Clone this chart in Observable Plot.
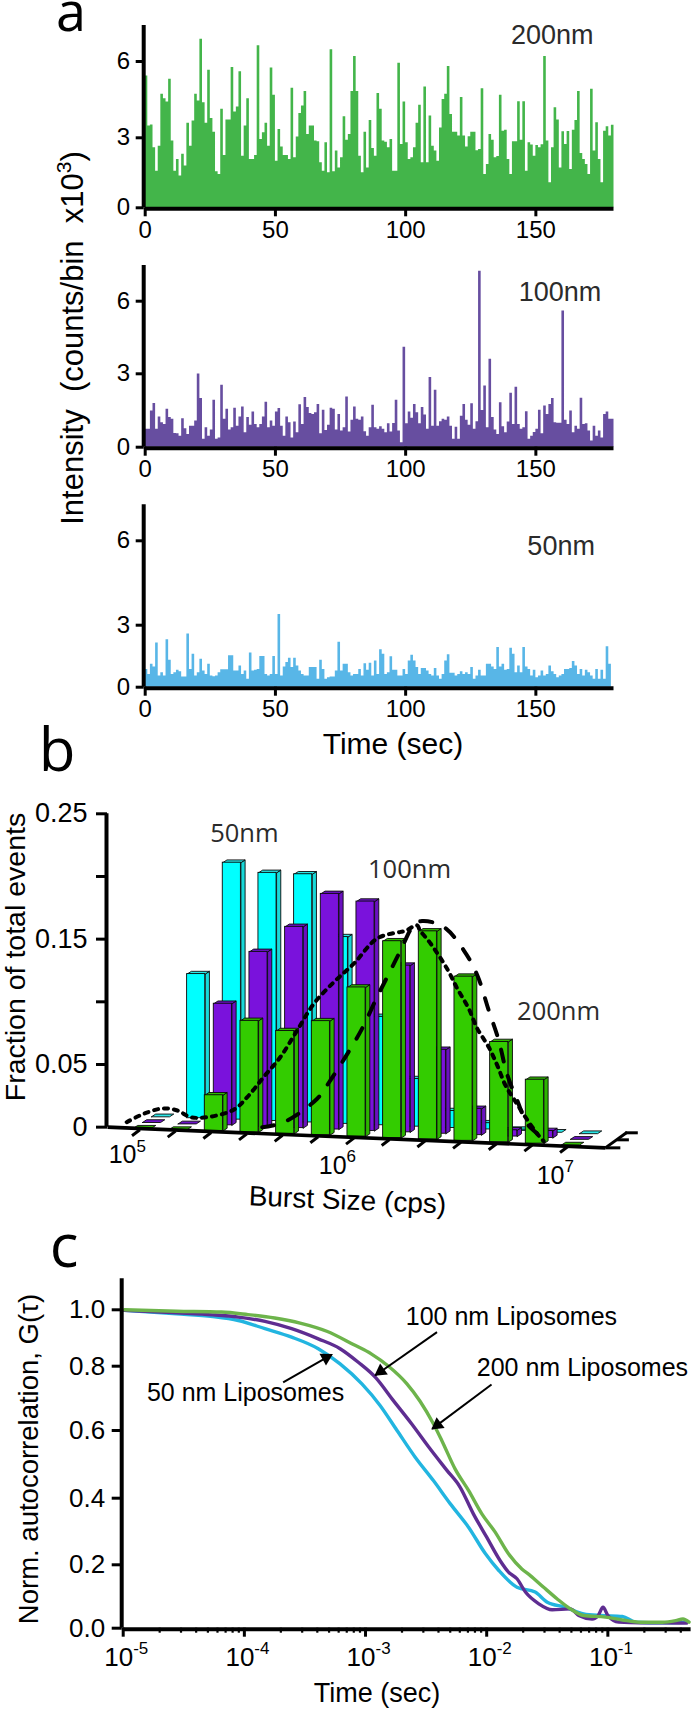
<!DOCTYPE html>
<html>
<head>
<meta charset="utf-8">
<script src="https://cdn.jsdelivr.net/npm/d3@7"></script>
<script src="https://cdn.jsdelivr.net/npm/@observablehq/plot@0.6"></script>
<style>
html,body{margin:0;padding:0;background:#fff}
#page{position:relative;width:692px;height:1710px;overflow:hidden;background:#fff}
#page svg{position:absolute;left:0;overflow:visible;background:transparent}
.t{position:absolute;white-space:nowrap;color:#000;line-height:1;font-family:"Liberation Sans",Arial,sans-serif;transform:translate(-50%,-50%)}
.t sup{font-size:.68em;line-height:0}
</style>
</head>
<body>
<div id="page"></div>
<script>
// ---------- Panel a: intensity traces, one value per second ----------
const intensity200 = [5.43,3.46,3.5,2.57,1.57,2.64,4.71,4.54,4.41,5.3,2.86,1.57,2.07,1.36,2.29,1.79,3.57,2.64,3.66,4.71,4.45,6.88,4.38,3.57,5.66,3.76,3.22,1.54,1.43,4.12,2.24,3.7,3.7,5.76,4.01,4.21,5.6,2.21,3.46,4.54,2.07,2.07,2.24,6.62,2.93,3.2,3.57,2.64,5.74,4.67,2.0,3.33,2.61,2.24,2.24,2.07,4.95,2.14,3.03,3.96,4.25,4.82,3.13,3.46,3.46,2.86,2.83,1.93,1.57,2.79,1.5,6.46,1.54,2.43,1.71,2.14,3.83,2.89,3.13,4.82,6.2,4.82,2.21,1.5,3.22,1.71,3.68,2.54,2.21,
4.74,4.12,2.86,2.81,2.57,2.93,1.57,1.57,5.93,2.71,4.41,2.79,2.07,2.14,2.57,3.57,4.28,1.93,5.0,1.93,3.86,2.64,2.43,2.0,3.39,4.51,4.71,5.8,3.92,3.22,3.22,3.07,4.58,3.07,2.61,3.04,3.22,3.22,2.45,2.5,4.93,1.43,1.86,3.13,2.89,2.14,2.2,4.67,3.26,3.3,2.07,1.43,2.83,2.83,4.42,2.9,4.42,1.57,2.79,2.69,2.21,2.67,2.57,2.7,6.2,2.86,1.07,2.57,4.18,3.7,1.71,3.24,2.71,3.25,1.64,3.3,3.68,4.82,2.33,2.07,1.86,1.43,4.91,2.43,3.59,2.07,1.07,3.26,3.43,3.07,3.49];
const intensity100 = [.73,.73,1.48,1.79,.73,1.23,1.0,.93,1.55,1.21,1.14,.56,.55,.45,1.16,.75,.52,.86,.86,1.07,2.99,1.99,.32,.79,.45,.7,1.92,.32,.38,2.53,1.14,1.55,.7,.79,1.59,.86,1.23,1.64,.59,1.21,.9,1.44,.93,.8,.93,1.23,1.84,.79,1.07,.86,1.44,1.58,.86,.45,1.23,1.0,.38,1.03,.59,1.73,.93,2.03,1.62,1.38,1.34,1.41,1.75,.55,1.51,.68,.9,1.59,1.55,.7,1.34,.66,.8,2.05,.62,1.1,1.64,1.14,1.1,1.23,.63,.45,.8,1.71,.79,
.73,.84,.73,.59,.96,.62,.97,1.92,.66,.18,4.1,.96,1.44,1.18,1.75,1.41,.96,1.62,1.32,.73,2.85,.86,2.33,.86,1.04,1.14,1.1,1.23,.86,.32,.82,.32,1.27,1.75,1.1,.9,1.78,.73,1.04,7.25,1.5,2.5,.8,3.6,1.21,.7,.52,1.82,.84,.59,1.03,2.21,.93,2.45,.93,.73,.79,1.45,.32,.45,.6,.73,1.51,.55,1.68,1.34,1.75,1.99,1.0,.98,.98,5.6,1.1,.93,1.48,.59,.86,.73,2.0,.93,.96,.66,.25,.86,.45,.66,.38,1.34,1.44,1.14,1.14];
const intensity50 = [.86,.62,1.11,.98,2.14,.54,.7,.54,2.3,1.31,.62,.7,.82,.75,.49,.49,2.58,.86,1.6,.54,.7,1.35,.78,.62,1.11,.54,.51,.54,.7,.85,.85,.85,1.52,1.52,.78,.78,1.03,.62,.78,.38,1.65,.78,.82,.86,1.48,1.48,.62,.54,.62,1.48,.62,3.38,.54,.98,1.19,1.4,.95,1.4,1.03,.78,.62,.54,.54,.95,.95,.95,.38,1.31,.86,.38,.46,.49,.49,.78,2.17,.78,1.11,1.11,.7,.54,.62,.62,.86,.54,1.14,.82,1.16,.54,1.27,
.62,1.81,1.6,.62,.7,1.47,.82,.82,.54,.54,.86,.62,1.27,1.55,1.27,.95,.62,.91,.91,.78,.62,.54,.91,.54,.38,.62,1.27,1.57,.67,.67,.54,.62,.75,.62,.7,.62,.95,.38,.54,.82,.54,.54,1.11,1.11,.98,.86,1.92,.98,1.11,.82,.86,1.88,1.6,.7,1.03,.7,1.92,.98,.86,.54,.82,.46,.54,.78,.54,.62,1.03,.75,.62,.46,.54,.62,.86,.86,.91,1.24,1.03,.62,.86,.54,.82,.7,.54,.38,.86,.38,.82,.38,1.96,1.11];
const timeTicks = [0,50,100,150];
const intensityTicks = [0,3,6];

// ---------- Panel b: burst size histograms ----------
const burstBins  = [1,2,3,4,5,6,7,8,9,10,11,12,13];
const fraction50  = [0,.115,.205,.198,.198,.149,.0865,.038,.0136,.005,.001,0,0];
const fraction100 = [0,0,.097,.1395,.1606,.188,.183,.133,.067,.021,.005,.0056,0];
const fraction200 = [0,0,.0285,.089,.082,.091,.119,.157,.166,.131,.08,.051,0];
const fractionTicks = [0,.05,.1,.15,.2,.25];
const fractionLabels = ["0","0.05","","0.15","","0.25"];
const dottedBin = [.81,1.29,1.81,2.23,2.6,3.07,3.81,4.19,4.65,5.12,5.59,6.06,6.62,7.18,7.83,8.49,8.63,8.95,9.03,9.33,9.79,10.08,10.4,10.64,10.96,11.2,11.43,11.66,11.99,12.32,12.5];
const dottedVal = [.004,.0107,.0149,.0133,.008,.008,.0139,.024,.04,.056,.0772,.0986,.1158,.1305,.1505,.1558,.1566,.1611,.1571,.1465,.1265,.1105,.0946,.0786,.0639,.0493,.0333,.0227,.008,-.0053,-.0112];
const dashedBin = [4.61,5.22,6.15,6.52,6.94,7.41,7.83,8.21,8.49,8.86,9.09,9.7,10.26,10.64,10.96,11.24,11.47,11.76,12.04,12.32,12.5];
const dashedVal = [0,.004,.0227,.0373,.0559,.0786,.1038,.1252,.1411,.1611,.1645,.1597,.1411,.1212,.0932,.0693,.0427,.0213,.0027,-.0053,-.0112];

// ---------- Panel c: autocorrelation curves ----------
const logTau200 = [-4.99,-4.56,-4.19,-3.97,-3.75,-3.54,-3.32,-3.10,-2.95,-2.81,-2.66,-2.55,-2.44,-2.37,-2.26,-2.15,-2.04,-1.93,-1.82,-1.71,-1.64,-1.53,-1.42,-1.31,-1.20,-1.02,-.88,-.73,-.55,-.44,-.38,-.33];
const corr200   = [1,.995,.992,.983,.971,.953,.924,.877,.843,.80,.746,.691,.621,.57,.486,.423,.353,.298,.233,.187,.166,.129,.093,.061,.04,.035,.026,.019,.019,.024,.029,.019];
const logTau100 = [-4.99,-4.56,-4.26,-4.05,-3.83,-3.61,-3.39,-3.21,-3.06,-2.92,-2.77,-2.62,-2.48,-2.33,-2.22,-2.11,-2,-1.89,-1.82,-1.75,-1.68,-1.57,-1.46,-1.31,-1.24,-1.13,-1.08,-1.04,-1,-.91,-.73,-.55,-.35];
const corr100   = [.998,.989,.982,.974,.959,.933,.897,.862,.814,.766,.693,.621,.552,.483,.433,.353,.283,.213,.177,.156,.114,.077,.058,.061,.04,.029,.04,.066,.04,.019,.017,.017,.016];
const logTau50  = [-4.99,-4.56,-4.26,-4.05,-3.83,-3.61,-3.39,-3.21,-3.03,-2.88,-2.74,-2.59,-2.44,-2.30,-2.15,-2.01,-1.90,-1.75,-1.60,-1.50,-1.35,-1.20,-1.06,-.88,-.77,-.55,-.35];
const corr50    = [.998,.986,.976,.962,.933,.903,.862,.808,.745,.678,.6,.521,.452,.383,.313,.233,.182,.129,.114,.082,.066,.045,.04,.037,.019,.017,.019];
const corrTicks = [0,.2,.4,.6,.8,1];
const decades = [1e-5,1e-4,1e-3,1e-2,1e-1];
const decadeExp = ["-5","-4","-3","-2","-1"];
const minorTicks = [2e-5,3e-5,4e-5,5e-5,6e-5,7e-5,8e-5,9e-5,2e-4,3e-4,4e-4,5e-4,6e-4,7e-4,8e-4,9e-4,2e-3,3e-3,4e-3,5e-3,6e-3,7e-3,8e-3,9e-3,2e-2,3e-2,4e-2,5e-2,6e-2,7e-2,8e-2,9e-2,.2,.3,.4];

const SANS = '"Liberation Sans",Arial,sans-serif';
const page = document.getElementById("page");
const put = (svg, top) => { svg.style.top = top + "px"; page.appendChild(svg); };
const label = (html, x, y, size, extra = "") => {
  const d = document.createElement("div");
  d.className = "t";
  d.innerHTML = html;
  d.style.cssText = `left:${x}px;top:${y}px;font-size:${size}px;${extra}`;
  page.appendChild(d);
};
// The printed axes are not evenly spaced, so values pass through a calibration before the y scale.
function calibrated(domain, range) {
  const warp = d3.scaleLinear().domain(domain).range(range.map(r => range[0] - r));
  return {warp, scale: {transform: v => warp(v), domain: [0, range[0] - range[range.length - 1]], range: [range[0], range[range.length - 1]]}};
}

// ---------- Panel a ----------
function trace(values, color, top, height, yDomain, yRange, name, nameT, nameV) {
  const rows = values.map((v, i) => ({t: i, v}));
  rows.push({t: values.length, v: values[values.length - 1]});
  const cal = calibrated(yDomain, yRange);
  return put(Plot.plot({
    width: 692, height,
    marginLeft: 144.7, marginRight: 78.5, marginTop: 0, marginBottom: height - yRange[0],
    style: {fontFamily: SANS, background: "transparent"},
    x: {domain: [0, 180]},
    y: cal.scale,
    marks: [
      Plot.areaY(rows, {x: "t", y1: () => 0, y2: "v", fill: color, curve: "step-after"}),
      Plot.ruleX([0], {y1: () => 0, y2: () => yDomain[3], stroke: "#000", strokeWidth: 4, dx: -1.5}),
      Plot.ruleY([0], {stroke: "#000", strokeWidth: 4, dy: 1}),
      Plot.axisX({ticks: timeTicks, label: null, tickSize: 9, strokeWidth: 3, fontSize: 24, tickPadding: 4, color: "#000", tickFormat: d => d}),
      Plot.axisY({ticks: intensityTicks.map(cal.warp), label: null, tickSize: 8, strokeWidth: 3, fontSize: 24, tickPadding: 6, color: "#000", tickFormat: (d, i) => intensityTicks[i], dx: -1}),
      Plot.text([name], {x: () => nameT, y: () => nameV, text: d => d, fontSize: 27, fill: "#2b2b2b"})
    ]
  }), top);
}
trace(intensity200, "#43B54A", 0,   240, [0,3,6,7.42], [207.3,137.3,61,25],        "200nm", 156.3, 7.02);
trace(intensity100, "#674EA0", 240, 240, [0,3,6,7.49], [206.7,133.3,60.7,25],      "100nm", 159.3, 6.37);
trace(intensity50,  "#58B6E7", 480, 250, [0,3,6,7.28], [206.7,144.7,60.3,24.3],    "50nm",  159.7, 5.81);

label('Intensity&nbsp; (counts/bin&nbsp; x10<sup>3</sup>)', 72, 338, 31, "transform:translate(-50%,-50%) rotate(-90deg);");
label("Time (sec)", 393, 744, 30);
label("a", 71, 10, 54, 'font-family:"Open Sans";line-height:.5;');

// ---------- Panel b ----------
const SKEW = .00112, DX = .252, DY = .00453, BARW = .508, SIDEX = .118, SIDEY = .0022, X0 = .272;
function series(values, depth, colors) {
  const fronts = [], tops = [], sides = [];
  values.forEach((v, i) => {
    const b = burstBins[i];
    const x = b + depth * DX;
    const y0 = -SKEW * (b - X0) + depth * DY;
    const y1 = y0 + v;
    const id = depth + "-" + b;
    fronts.push({x1: x, x2: x + BARW, y1: y0, y2: y1});
    [[x, y1], [x + BARW, y1], [x + BARW + SIDEX, y1 + SIDEY], [x + SIDEX, y1 + SIDEY], [x, y1]]
      .forEach(p => tops.push({x: p[0], y: p[1], z: id}));
    if (v > 0) [[x + BARW, y0], [x + BARW, y1], [x + BARW + SIDEX, y1 + SIDEY], [x + BARW + SIDEX, y0 + SIDEY], [x + BARW, y0]]
      .forEach(p => sides.push({x: p[0], y: p[1], z: id}));
  });
  const edge = {stroke: "#0a0a0a", strokeWidth: .9};
  return [
    Plot.line(sides, {x: "x", y: "y", z: "z", fill: colors[1], curve: "linear", ...edge}),
    Plot.line(tops, {x: "x", y: "y", z: "z", fill: colors[2], curve: "linear", ...edge}),
    Plot.rect(fronts.filter((d, i) => values[i] > 0), {x1: "x1", x2: "x2", y1: "y1", y2: "y2", fill: colors[0], ...edge})
  ];
}
const floorX = [X0, 14.23];
const tickBins = [1.18,2.18,3.18,4.18,5.18,6.18,7.18,8.18,9.18,10.18,11.18,12.18,13.18];
const toXY = (xs, ys) => xs.map((x, i) => ({x, y: ys[i]}));
const expLabels = [
  {x: .86, y: -.0226, e: "5"},
  {x: 6.75, y: -.0306, e: "6"},
  {x: 12.86, y: -.0386, e: "7"}
];
put(Plot.plot({
  width: 692, height: 440,
  marginLeft: 107, marginRight: 54.7, marginTop: 0, marginBottom: 53,
  style: {fontFamily: SANS, background: "transparent"},
  x: {domain: [X0, 15.14], axis: null},
  y: {domain: [-.04, .25], range: [386.8, 23.3]},
  marks: [
    ...series(fraction50, 2, ["#00FFFF", "#19D9D9", "#2BE6E6"]),
    ...series(fraction100, 1, ["#7A12DC", "#6A10BF", "#6D12C8"]),
    ...series(fraction200, 0, ["#33CC00", "#2DB400", "#2FBA00"]),
    Plot.link(tickBins, {x1: d => d, y1: d => -SKEW * (d - X0) - .001, x2: d => d - .22, y2: d => -SKEW * (d - X0) - .0058, stroke: "#000", strokeWidth: 3}),
    Plot.link([0], {x1: () => floorX[0], y1: () => 0, x2: () => floorX[1], y2: () => -.0165, stroke: "#000", strokeWidth: 3.6}),
    Plot.link([0], {x1: () => 14.23, y1: () => -.0165, x2: () => 14.84, y2: () => -.004, stroke: "#000", strokeWidth: 3}),
    Plot.link([0], {x1: () => 14.23, y1: () => -.0165, x2: () => 14.65, y2: () => -.0165, stroke: "#000", strokeWidth: 3}),
    Plot.link([0], {x1: () => 14.56, y1: () => -.0101, x2: () => 14.89, y2: () => -.0101, stroke: "#000", strokeWidth: 3}),
    Plot.link([0], {x1: () => 14.79, y1: () => -.0045, x2: () => 15.14, y2: () => -.0045, stroke: "#000", strokeWidth: 3}),
    Plot.line(toXY(dashedBin, dashedVal), {x: "x", y: "y", stroke: "#000", strokeWidth: 4, strokeDasharray: "12 15", curve: "catmull-rom"}),
    Plot.line(toXY(dottedBin, dottedVal), {x: "x", y: "y", stroke: "#000", strokeWidth: 4, strokeDasharray: "4 6", curve: "catmull-rom"}),
    Plot.ruleX([X0], {y1: () => 0, y2: () => .25, stroke: "#000", strokeWidth: 4, dx: -1}),
    Plot.axisY({ticks: fractionTicks, label: null, tickSize: 11, strokeWidth: 3, fontSize: 27, tickPadding: 9, color: "#000", tickFormat: (d, i) => fractionLabels[i]}),
    Plot.text(expLabels, {x: "x", y: "y", text: () => "10", textAnchor: "end", dx: 8, fontSize: 25}),
    Plot.text(expLabels, {x: "x", y: "y", text: "e", textAnchor: "start", dx: 8, dy: -9, fontSize: 17}),
    Plot.text(["Burst Size (cps)"], {x: () => 7.0, y: () => -.0585, text: d => d, fontSize: 28, rotate: 2.4}),
    Plot.text(["50nm"], {x: () => 4.11, y: () => .2338, text: d => d, fontSize: 25.5, fontFamily: "Open Sans", fill: "#2b2b2b"}),
    Plot.text(["100nm"], {x: () => 8.74, y: () => .205, text: d => d, fontSize: 25.5, fontFamily: "Open Sans", fill: "#2b2b2b"}),
    Plot.text(["200nm"], {x: () => 12.92, y: () => .0919, text: d => d, fontSize: 25.5, fontFamily: "Open Sans", fill: "#2b2b2b"})
  ]
}), 790);
label("Fraction of total events", 15, 957, 28.5, "transform:translate(-50%,-50%) rotate(-90deg);");
label("b", 57, 748, 60, 'font-family:"Open Sans";');

// ---------- Panel c ----------
const curve = (xs, ys) => xs.map((x, i) => ({tau: 10 ** x, g: ys[i]}));
const arrowRows = [
  {lx1: -2.41, y1: .921, lx2: -2.92, y2: .771, heading: -125},
  {lx1: -1.96, y1: .743, lx2: -2.45, y2: .605, heading: -127},
  {lx1: -3.68, y1: .750, lx2: -3.29, y2: .838, heading: 61}
];
const arrows = arrowRows.map(a => ({x1: 10 ** a.lx1, y1: a.y1, x2: 10 ** a.lx2, y2: a.y2}));
const arrowHeads = arrowRows.map(a => ({x: 10 ** (a.lx1 + .91 * (a.lx2 - a.lx1)), y: a.y1 + .91 * (a.y2 - a.y1), heading: a.heading}));
const decadeRows = decades.map((d, i) => ({d, e: decadeExp[i]}));
const calC = calibrated([0,.2,.4,.6,.8,1,1.1], [357.7,294.3,227.7,160,95.7,39.3,8.3]);
put(Plot.plot({
  width: 692, height: 440,
  marginLeft: 122.7, marginRight: 1.4, marginTop: 0, marginBottom: 82.3,
  style: {fontFamily: SANS, background: "transparent"},
  x: {type: "log", domain: [1e-5, 10 ** -.313]},
  y: calC.scale,
  marks: [
    Plot.line(curve(logTau50, corr50), {x: "tau", y: "g", stroke: "#22B5E0", strokeWidth: 3.4, curve: "monotone-x"}),
    Plot.line(curve(logTau100, corr100), {x: "tau", y: "g", stroke: "#5E2D91", strokeWidth: 3.4, curve: "monotone-x"}),
    Plot.line(curve(logTau200, corr200), {x: "tau", y: "g", stroke: "#6DB44B", strokeWidth: 3.4, curve: "monotone-x"}),
    Plot.link(arrows, {x1: "x1", y1: "y1", x2: "x2", y2: "y2", stroke: "#000", strokeWidth: 2}),
    Plot.dot(arrowHeads, {x: "x", y: "y", symbol: "triangle", r: 5, fill: "#000", rotate: "heading"}),
    Plot.ruleX([1e-5], {y1: () => 0, y2: () => 1.1, stroke: "#000", strokeWidth: 4, dx: -1.5}),
    Plot.ruleY([0], {stroke: "#000", strokeWidth: 4, dy: 1}),
    Plot.axisX({ticks: minorTicks, label: null, tickSize: 5, strokeWidth: 2.2, tickFormat: () => ""}),
    Plot.axisX({ticks: decades, label: null, tickSize: 9, strokeWidth: 3, tickFormat: () => ""}),
    Plot.axisY({ticks: corrTicks.map(calC.warp), label: null, tickSize: 10, strokeWidth: 3, fontSize: 26, tickPadding: 7, color: "#000", tickFormat: (d, i) => corrTicks[i].toFixed(1), dx: -1}),
    Plot.text(decadeRows, {x: "d", y: () => 0, text: () => "10", textAnchor: "end", dx: 10, dy: 29, fontSize: 26}),
    Plot.text(decadeRows, {x: "d", y: () => 0, text: "e", textAnchor: "start", dx: 10, dy: 20, fontSize: 17}),
    Plot.text(["100 nm Liposomes"], {x: () => 10 ** -1.796, y: () => .976, text: d => d, fontSize: 25}),
    Plot.text(["200 nm Liposomes"], {x: () => 10 ** -1.21, y: () => .793, text: d => d, fontSize: 25}),
    Plot.text(["50 nm Liposomes"], {x: () => 10 ** -3.99, y: () => .718, text: d => d, fontSize: 25})
  ]
}), 1270);
label("Norm. autocorrelation, G(τ)", 29, 1459, 27.5, "transform:translate(-50%,-50%) rotate(-90deg);");
label("Time (sec)", 377, 1693, 27);
label("c", 64, 1244, 60, 'font-family:"Open Sans";');
</script>
</body>
</html>
